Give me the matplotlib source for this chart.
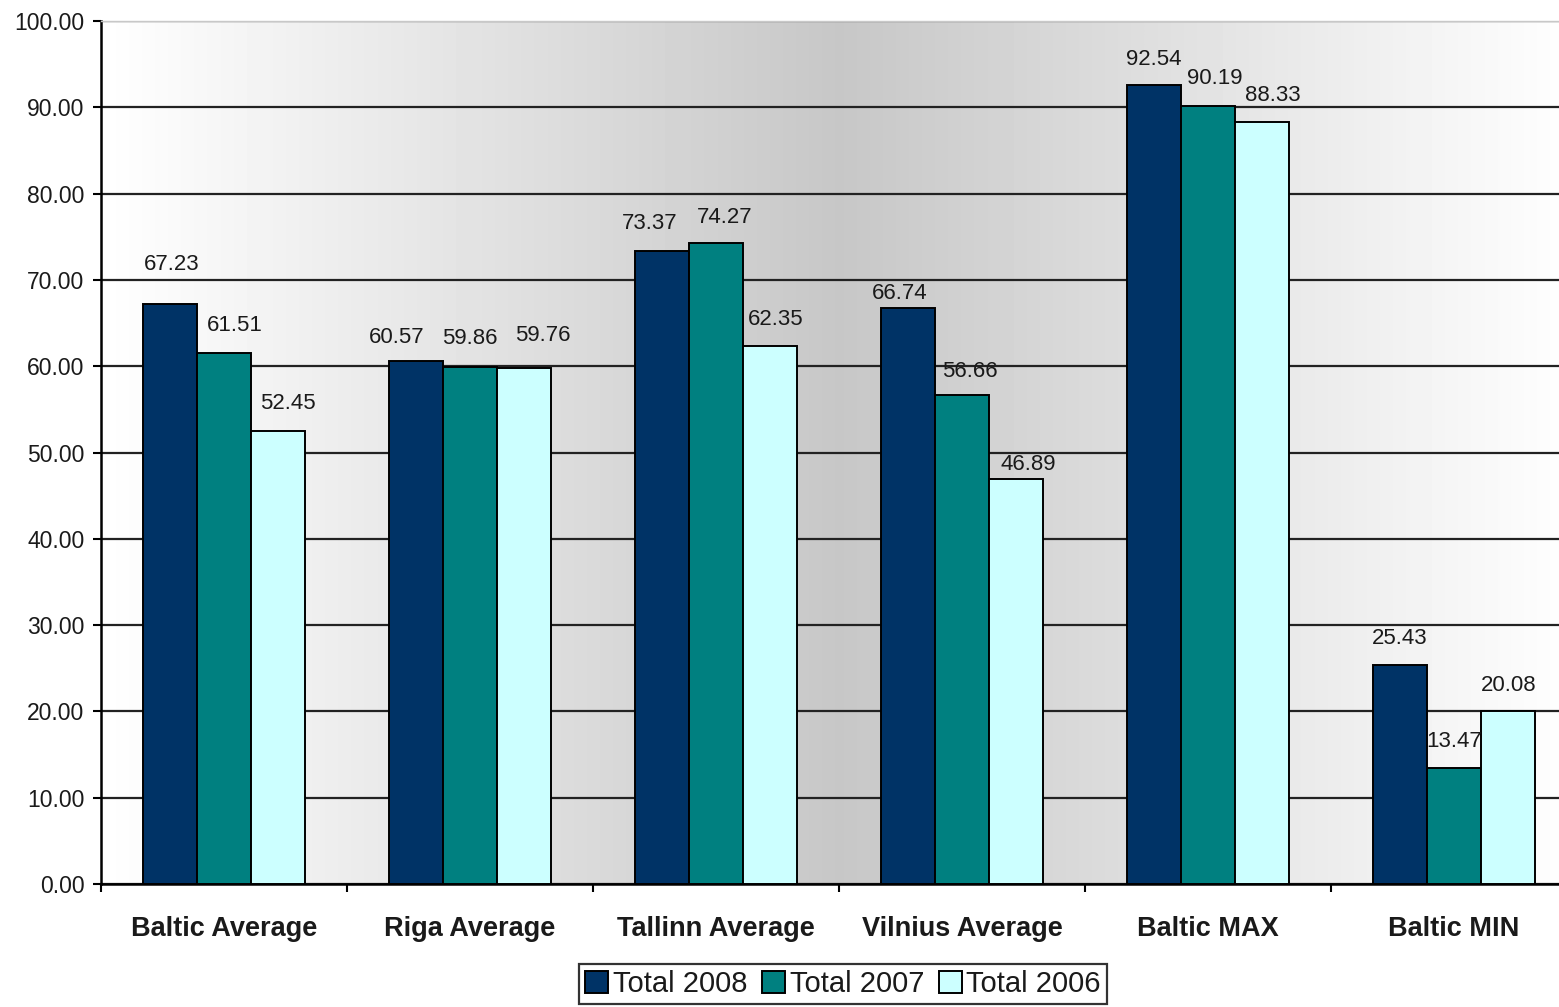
import numpy as np
import matplotlib
matplotlib.use("Agg")
from matplotlib import pyplot as plt

# Chart data
categories = ["Baltic Average", "Riga Average", "Tallinn Average",
              "Vilnius Average", "Baltic MAX", "Baltic MIN"]
total_2008 = [67.23, 60.57, 73.37, 66.74, 92.54, 25.43]
total_2007 = [61.51, 59.86, 74.27, 56.66, 90.19, 13.47]
total_2006 = [52.45, 59.76, 62.35, 46.89, 88.33, 20.08]
series_names = ["Total 2008", "Total 2007", "Total 2006"]
series_colors = ["#003366", "#008080", "#CCFFFF"]

# label nudges (pixels) that the original chart used to keep labels apart
nudge_x = [[2, -19, -12, -8, 0, 0],
           [11, 0, 9, 8, 7, 0],
           [10, 19, 6, 12, 11, 0]]
nudge_y = [[13, -2, 1, -11, 0, 0],
           [2, 3, 0, -2, 1, 0],
           [2, 7, 0, -11, 0, -1]]

plt.rcParams['font.family'] = ['Liberation Sans', 'DejaVu Sans']
text_col = '#1a1a1a'

fig = plt.figure(figsize=(15.59, 10.07), dpi=100)
# plot area runs a little past the right edge of the picture
ax = fig.add_axes([0.0648, 0.1221, 0.9468, 0.8570])

n = len(categories)
x = np.arange(n)
width = 0.22
px = 72 / fig.dpi  # pixels -> points

# horizontal gradient background: white at edges, grey in the middle
g = np.linspace(0, 1, 400)
shade = 1.0 - 0.22 * (1 - np.abs(g - 0.5) * 2)
img = np.tile(shade, (2, 1))
ax.imshow(img, cmap='gray', vmin=0, vmax=1, aspect='auto',
          extent=[-0.5, n - 0.5, 0, 100], zorder=0, interpolation='bilinear')

for i, (vals, name, col) in enumerate(zip([total_2008, total_2007, total_2006],
                                          series_names, series_colors)):
    pos = x + (i - 1) * width
    bars = ax.bar(pos, vals, width, color=col, edgecolor='black',
                  linewidth=1.4, label=name, zorder=3)
    for j, (b, v) in enumerate(zip(bars, vals)):
        ax.annotate(f"{v:.2f}", (b.get_x() + b.get_width() / 2, v),
                    xytext=(nudge_x[i][j] * px, (26 + nudge_y[i][j]) * px),
                    textcoords='offset points',
                    ha='center', va='center', fontsize=16, color=text_col,
                    zorder=4)

ax.set_xlim(-0.5, n - 0.5)
ax.set_ylim(0, 100)
ax.set_yticks(np.arange(0, 101, 10))
ax.set_yticklabels([f"{t:.2f}" for t in np.arange(0, 101, 10)], fontsize=16.5,
                   color=text_col)
ax.yaxis.grid(True, color='#222222', linewidth=1.6, zorder=1)
ax.set_axisbelow(True)

# category labels at group centres, ticks between groups
ax.set_xticks(np.arange(-0.5, n, 1.0))
ax.set_xticklabels([])
ax.set_xticks(x, minor=True)
ax.set_xticklabels(categories, minor=True, fontsize=19.5, fontweight='bold',
                   color=text_col)
ax.tick_params(axis='x', which='minor', length=0, pad=23)
ax.tick_params(axis='x', which='major', length=6, width=1.5, direction='out')
ax.tick_params(axis='y', length=6, width=1.5, direction='out', pad=6)

ax.spines['right'].set_visible(False)
ax.spines['top'].set_color('#c8c8c8')
ax.spines['top'].set_linewidth(1.0)
for s in ['left', 'bottom']:
    ax.spines[s].set_linewidth(1.8)

leg = fig.legend(loc='lower center', bbox_to_anchor=(0.5407, 0.0), ncol=3,
                 frameon=True, fancybox=False, edgecolor='black',
                 handlelength=0.8, handleheight=0.8, handletextpad=0.15,
                 columnspacing=0.5, borderpad=0.2, borderaxespad=0.1,
                 prop={'size': 21})
leg.get_frame().set_linewidth(1.6)
for t in leg.get_texts():
    t.set_color(text_col)

fig.savefig("out.png", dpi=100)
